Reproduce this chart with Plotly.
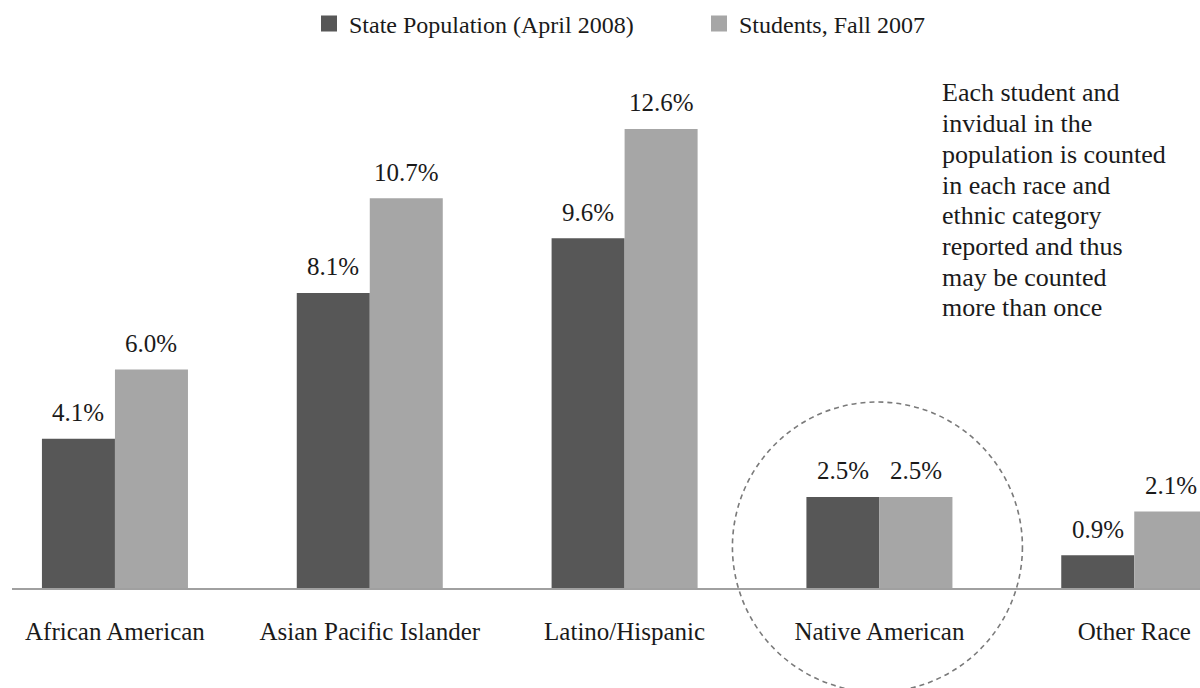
import plotly.graph_objects as go

categories = ["African American", "Asian Pacific Islander", "Latino/Hispanic",
              "Native American", "Other Race"]
state_pop = [4.1, 8.1, 9.6, 2.5, 0.9]
students = [6.0, 10.7, 12.6, 2.5, 2.1]
series_names = ["State Population (April 2008)", "Students, Fall 2007"]
note_lines = ["Each student and", "invidual in the", "population is counted",
              "in each race and", "ethnic category", "reported and thus",
              "may be counted", "more than once"]
highlight = "Native American"

DARK = "#575757"
LIGHT = "#a6a6a6"
FONT = "Liberation Serif"
TXT = "#1a1a1a"

W, H = 1200, 688
ML, MR, MT, MB = 12, 0, 100, 100
plot_w = W - ML - MR
plot_h = H - MT - MB
X0, X1 = -0.404, 4.258

fig = go.Figure()
legend_ids = ["legend", "legend2"]
legend_left_px = [309, 699]
for name, vals, col, lg in [(series_names[0], state_pop, DARK, legend_ids[0]),
                            (series_names[1], students, LIGHT, legend_ids[1])]:
    fig.add_trace(go.Bar(x=categories, y=vals, name=name, showlegend=False,
                         marker=dict(color=col, line=dict(width=0)), hoverinfo="x+y"))
    # legend-only entry with a larger square swatch
    fig.add_trace(go.Scatter(x=[None], y=[None], mode="markers", name=name, legend=lg,
                             marker=dict(symbol="square", size=16, color=col)))

# value labels above bars
cat_px = plot_w / (X1 - X0)
bar_px = cat_px * (1 - 0.427) / 2
for vals, sgn in [(state_pop, -1), (students, 1)]:
    for c, v in zip(categories, vals):
        fig.add_annotation(x=c, y=v, xref="x", yref="y", text=f"{v:.1f}%", showarrow=False,
                           xshift=sgn * bar_px / 2, yshift=26, yanchor="middle",
                           font=dict(family=FONT, size=25, color=TXT))

# note text, one annotation per line
x_left = (940 - ML) / plot_w
for i, line in enumerate(note_lines):
    cy = 93 + 30.7 * i
    fig.add_annotation(x=x_left, y=(H - MB - cy) / plot_h, xref="paper", yref="paper",
                       text=line, showarrow=False, xanchor="left", yanchor="middle",
                       font=dict(family=FONT, size=26, color=TXT))

# dashed circle around highlighted category
ci = categories.index(highlight)
cx_px = ML + (ci - X0) / (X1 - X0) * plot_w - 2
cy_px = 547
r = 145
fig.add_shape(type="circle", xref="paper", yref="paper",
              x0=(cx_px - r - ML) / plot_w, x1=(cx_px + r - ML) / plot_w,
              y0=(H - MB - (cy_px + r)) / plot_h, y1=(H - MB - (cy_px - r)) / plot_h,
              line=dict(color="#7a7a7a", width=1.6, dash="5px,4px"))

legend_common = dict(orientation="h", xanchor="left", y=1 + (MT - 24) / plot_h,
                     yanchor="middle", font=dict(family=FONT, size=24, color=TXT),
                     bgcolor="rgba(0,0,0,0)", itemwidth=30)

fig.update_layout(
    width=W, height=H,
    margin=dict(l=ML, r=MR, t=MT, b=MB),
    paper_bgcolor="white", plot_bgcolor="white",
    barmode="group", bargap=0.427, bargroupgap=0,
    font=dict(family=FONT, size=25, color=TXT),
    legend=dict(x=(legend_left_px[0] - ML) / plot_w, **legend_common),
    legend2=dict(x=(legend_left_px[1] - ML) / plot_w, **legend_common),
    showlegend=True,
)
fig.update_xaxes(range=[X0, X1], showline=True, linecolor="#a0a0a0", linewidth=2,
                 showgrid=False, zeroline=False, ticks="", ticklabelstandoff=20,
                 tickfont=dict(family=FONT, size=25, color=TXT))
fig.update_yaxes(range=[0, plot_h / 36.43], visible=False, showgrid=False, zeroline=False)

fig.write_html("out.html", config={"displayModeBar": False},
               post_script="document.body.style.margin='0';document.body.style.overflow='hidden';")
